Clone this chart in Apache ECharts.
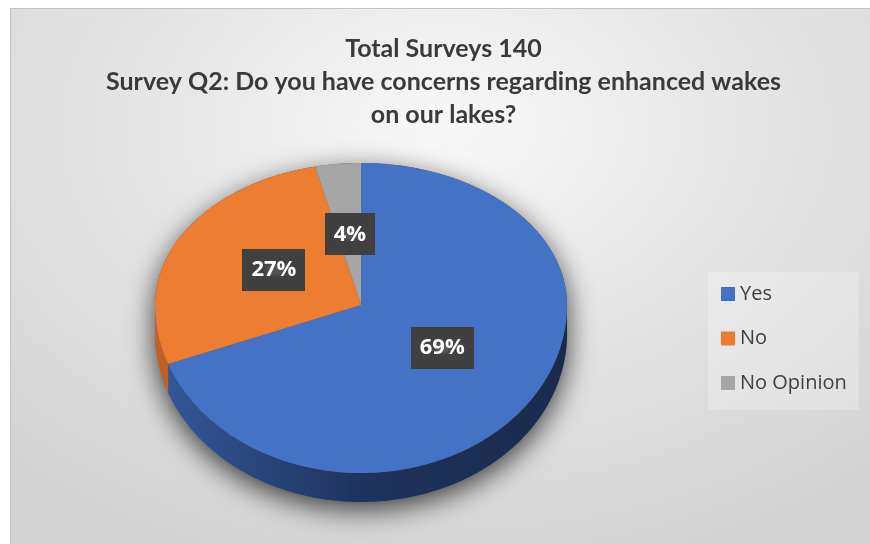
<!DOCTYPE html>
<html>
<head>
<meta charset="utf-8">
<script src="https://cdn.jsdelivr.net/npm/echarts@6/dist/echarts.min.js"></script>
<style>
	html, body { margin: 0; padding: 0; background: #fff; overflow: hidden; width: 870px; height: 544px; }
	#frame {
		position: absolute; left: 10px; top: 8px; width: 870px; height: 540px;
		border-left: 1px solid #c4c4c4; border-top: 1px solid #c4c4c4;
		background: radial-gradient(ellipse 75% 85% at 50% 22%, #f8f8f8 0%, #e6e6e6 45%, #d2d2d2 100%);
	}
	#pieChart { position: absolute; left: 0; top: 0; width: 865px; height: 535px; }
</style>
</head>
<body>
<div id="frame"><div id="pieChart"></div></div>
<script>
'use strict';

var titleLines = ['Total Surveys 140', 'Survey Q2: Do you have concerns regarding enhanced wakes', 'on our lakes?'];
var categories = ['Yes', 'No', 'No Opinion'];
var counts = [97, 38, 5];

var sliceColors = ['#4472c4', '#ed7d31', '#a5a5a5'];
var sideColors = [['#35599b', '#1e335e', '#1a2a4b'], ['#c0612a', '#a0501f', '#8a4519'], ['#8a8a8a', '#707070', '#606060']];

// pie geometry (chart pixels), tilted pie with a bit of perspective
var cx = 350, cy = 296, rx = 206, ryTop = 142, ryBot = 168, depth = 29;

var total = counts.reduce(function (a, b) { return a + b; }, 0);

function point(theta, f, dy) {
	var s = Math.sin(theta), c = Math.cos(theta);
	var ry = c > 0 ? ryTop : ryBot;
	return [cx + f * rx * s, cy - f * ry * c + (dy || 0)];
}

function arc(a0, a1, dy) {
	var pts = [], n = Math.max(2, Math.ceil((a1 - a0) / (Math.PI / 180)));
	for (var i = 0; i <= n; i++) {
		pts.push(point(a0 + (a1 - a0) * i / n, 1, dy));
	}
	return pts;
}

function startAngle(idx) {
	var sum = 0;
	for (var i = 0; i < idx; i++) { sum += counts[i]; }
	return sum / total * Math.PI * 2;
}

// dotted texture for the label boxes
var dots = document.createElement('canvas');
dots.width = 8; dots.height = 8;
(function () {
	var ctx = dots.getContext('2d');
	ctx.fillStyle = '#404040';
	ctx.fillRect(0, 0, 8, 8);
	ctx.fillStyle = '#555555';
	ctx.fillRect(3, 3, 2, 2);
})();

function renderSlice(params, api) {
	var idx = params.seriesIndex;
	var a0 = startAngle(idx);
	var a1 = a0 + api.value(0) / total * Math.PI * 2;
	var children = [];

	if (idx === 0) {
		// soft floor shadow under the whole pie
		var outline = arc(-Math.PI / 2, Math.PI / 2, 0).concat(arc(Math.PI / 2, Math.PI * 1.5, depth - 2));
		children.push({
			type: 'polygon',
			shape: { points: outline },
			style: { fill: '#555', shadowBlur: 28, shadowColor: 'rgba(0,0,0,0.75)', shadowOffsetY: 9 },
			z2: 0
		});
	}

	// visible front wall: angles between 90 and 270 degrees
	var b0 = Math.max(a0, Math.PI / 2), b1 = Math.min(a1, Math.PI * 1.5);
	if (b1 > b0) {
		var top = arc(b0, b1, 0);
		var bottom = arc(b0, b1, depth).reverse();
		var sc = sideColors[idx];
		children.push({
			type: 'polygon',
			shape: { points: top.concat(bottom) },
			style: {
				fill: new echarts.graphic.LinearGradient(cx - rx, 0, cx + rx, 0, [
					{ offset: 0, color: sc[0] },
					{ offset: 0.5, color: sc[1] },
					{ offset: 1, color: sc[2] }
				], true)
			},
			z2: 1
		});
	}

	children.push({
		type: 'polygon',
		shape: { points: [[cx, cy]].concat(arc(a0, a1, 0)) },
		style: { fill: api.visual('color') },
		z2: 2
	});

	var mid = (a0 + a1) / 2;
	var lp = point(mid, 0.48, -3);
	children.push({
		type: 'text',
		x: lp[0], y: lp[1],
		style: {
			text: Math.round(api.value(0) / total * 100) + '%',
			fill: '#ffffff',
			fontFamily: 'Open Sans',
			fontWeight: 'bold',
			fontSize: 22,
			lineHeight: 26,
			align: 'center',
			verticalAlign: 'middle',
			backgroundColor: { image: dots, repeat: 'repeat' },
			padding: [8, 9],
			shadowBlur: 6,
			shadowOffsetX: 3,
			shadowOffsetY: 3,
			shadowColor: 'rgba(0,0,0,0.45)'
		},
		z2: 100
	});

	return { type: 'group', children: children };
}

var chart = echarts.init(document.getElementById('pieChart'));

var series = categories.map(function (name, i) {
	return {
		name: name,
		type: 'custom',
		coordinateSystem: 'none',
		itemStyle: { color: sliceColors[i] },
		renderItem: renderSlice,
		silent: true,
		animation: false,
		data: [[counts[i]]]
	};
});

chart.setOption({
	backgroundColor: 'transparent',
	animation: false,
	title: {
		text: titleLines.join('\n'),
		left: 'center',
		top: 18,
		textStyle: {
			fontFamily: 'Lato',
			fontWeight: 'bold',
			fontSize: 25,
			lineHeight: 33,
			color: '#3a3a3a'
		}
	},
	legend: {
		data: categories,
		orient: 'vertical',
		left: 697,
		top: 263,
		padding: [12, 12, 17, 13],
		itemGap: 24.5,
		itemWidth: 14,
		itemHeight: 14,
		icon: 'rect',
		backgroundColor: 'rgba(255,255,255,0.25)',
		selectedMode: false,
		textStyle: {
			fontFamily: 'Open Sans',
			fontSize: 20,
			lineHeight: 20,
			color: '#404040'
		}
	},
	series: series
});
</script>
</body>
</html>
